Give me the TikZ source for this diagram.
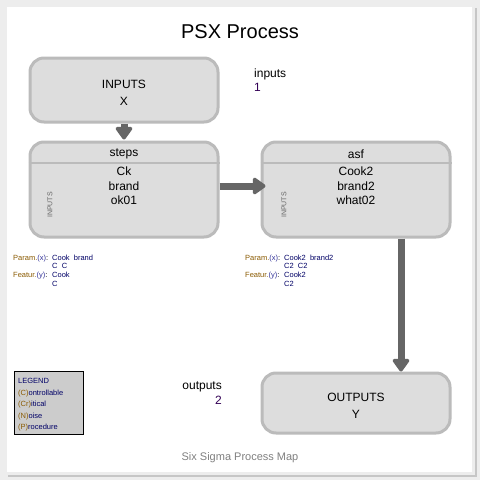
\documentclass[tikz,border=0pt]{standalone}
\usepackage{fontspec}
\setmainfont{Liberation Sans}
\usetikzlibrary{arrows.meta,positioning,calc}
\definecolor{boxfill}{HTML}{DDDDDD}
\definecolor{boxline}{HTML}{BBBBBB}
\definecolor{flowgray}{HTML}{666666}
\definecolor{paramcol}{HTML}{8A5A00}
\definecolor{varcol}{HTML}{333399}
\definecolor{valcol}{HTML}{000066}
\definecolor{numcol}{HTML}{330055}
\newcommand{\pxfont}[1]{\fontsize{#1}{#1}\selectfont}

\begin{document}
\begin{tikzpicture}[x=1pt,y=-1pt,
    procbox/.style={draw=boxline,fill=boxfill,line width=3pt,rounded corners=14pt,
        minimum width=188pt,inner sep=0pt},
    flow/.style={draw=flowgray,line width=7pt,-{Triangle[width=19pt,length=14pt,round]}},
    small/.style={font=\pxfont{7.5},inner sep=0pt,anchor=base west}]
    % frame
    \fill[gray!14] (0,0) rectangle (480,480);
    \fill[white] (7,7) rectangle (472,472);
    \draw[gray!45,line width=1.5pt] (476,8) -- (476,476) -- (8,476);
    \useasboundingbox (0,0) rectangle (480,480);

    \node (title) at (240,32) {\pxfont{20}PSX Process};

    \node [procbox,minimum height=64pt] (inputs) at (124,90) {};
    \node [procbox,minimum height=95pt] (steps) at (124,189.5) {};
    \node [procbox,minimum height=95pt] (asf) at (356,189.5) {};
    \node [procbox,minimum height=60pt] (outputs) at (356,403) {};
    \node [align=center,font=\fontsize{12}{17}\selectfont] (inputstext) at (124,93) {INPUTS\\X};
    \node [align=center,font=\fontsize{12}{17}\selectfont] (outputstext) at (356,405.5) {OUTPUTS\\Y};

    % headers
    \draw[boxline,line width=2pt] (steps.west |- 0,163) -- (steps.east |- 0,163);
    \draw[boxline,line width=2pt] (asf.west |- 0,163) -- (asf.east |- 0,163);
    \node [font=\pxfont{12}] (stepsname) at (124,154) {steps};
    \node [font=\pxfont{12}] (asfname) at (356,154) {asf};
    \node [align=center,font=\fontsize{12}{14.5}\selectfont] (stepsvars) at (124,186) {Ck\\brand\\ok01};
    \node [align=center,font=\fontsize{12}{14.5}\selectfont] (asfvars) at (356,186) {Cook2\\brand2\\what02};
    \node [rotate=90,font=\pxfont{7},text=flowgray] (stepsin) at (50,205) {INPUTS};
    \node [rotate=90,font=\pxfont{7},text=flowgray] (asfin) at (284,205) {INPUTS};

    % flows
    \draw[flow] (inputs.south) -- ([yshift=1pt]steps.north);
    \draw[flow] ([yshift=3.5pt]steps.east) -- ([xshift=5pt,yshift=3.5pt]asf.west);
    \draw[flow] ([xshift=45pt]asf.south) -- ([xshift=45pt]outputs.north);

    % counts
    \node [anchor=base west,inner sep=0pt,font=\pxfont{12}] (incount) at (254,77) {inputs};
    \node [anchor=base west,inner sep=0pt,font=\pxfont{12},text=numcol] (innum) at (254,91) {1};
    \node [anchor=base east,inner sep=0pt,font=\pxfont{12}] (outcount) at (222,389) {outputs};
    \node [anchor=base east,inner sep=0pt,font=\pxfont{12},text=numcol] (outnum) at (222,404) {2};

    % parameters
    \node [small] (p1) at (13,260) {\textcolor{paramcol}{Param.}\textcolor{varcol}{(x)}:};
    \node [small,text=valcol] (p1v) at (52,260) {Cook\ \ brand};
    \node [small,text=valcol] (p1c) at (52,268) {C\ \ C};
    \node [small] (f1) at (13,277) {\textcolor{paramcol}{Featur.}\textcolor{varcol}{(y)}:};
    \node [small,text=valcol] (f1v) at (52,277) {Cook};
    \node [small,text=valcol] (f1c) at (52,286) {C};
    \node [small] (p2) at (245,260) {\textcolor{paramcol}{Param.}\textcolor{varcol}{(x)}:};
    \node [small,text=valcol] (p2v) at (284,260) {Cook2\ \ brand2};
    \node [small,text=valcol] (p2c) at (284,268) {C2\ \ C2};
    \node [small] (f2) at (245,277) {\textcolor{paramcol}{Featur.}\textcolor{varcol}{(y)}:};
    \node [small,text=valcol] (f2v) at (284,277) {Cook2};
    \node [small,text=valcol] (f2c) at (284,286) {C2};

    % legend
    \draw[fill=gray!40,line width=1pt] (14,371) rectangle (83,434);
    \node [small,text=valcol] (lg) at (18,383) {LEGEND};
    \node [small,text=valcol] (l1) at (18,395) {\textcolor{paramcol}{(C)}ontrollable};
    \node [small,text=valcol] (l2) at (18,406) {\textcolor{paramcol}{(Cr)}itical};
    \node [small,text=valcol] (l3) at (18,418) {\textcolor{paramcol}{(N)}oise};
    \node [small,text=valcol] (l4) at (18,429) {\textcolor{paramcol}{(P)}rocedure};

    \node [font=\pxfont{11},text=gray] (footer) at (240,458) {Six Sigma Process Map};
\end{tikzpicture}
\end{document}
